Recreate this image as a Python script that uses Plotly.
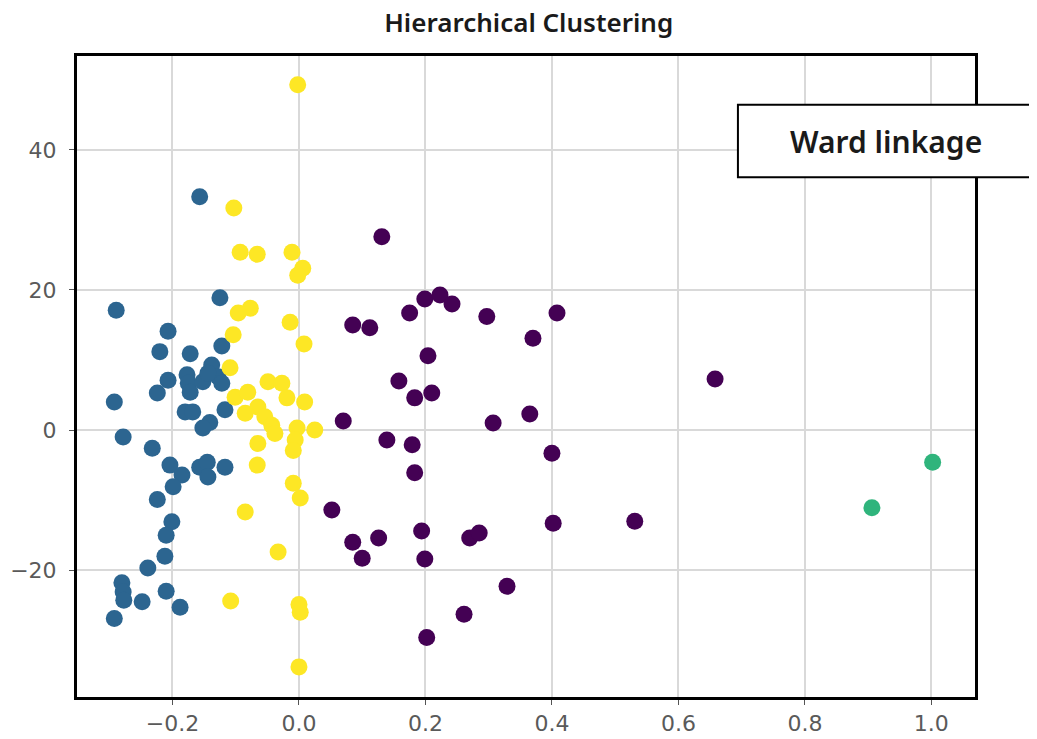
import plotly.graph_objects as go

# Cluster 0 (purple)
purple_x = [0.131, 0.199, 0.223, 0.242, 0.175, 0.297, 0.408, 0.085, 0.112, 0.370,
            0.204, 0.158, 0.183, 0.210, 0.365, 0.070, 0.307, 0.139, 0.179, 0.400,
            0.183, 0.052, 0.194, 0.085, 0.126, 0.100, 0.270, 0.285, 0.402, 0.199,
            0.329, 0.261, 0.202, 0.658, 0.531]
purple_y = [27.6, 18.7, 19.3, 18.0, 16.7, 16.2, 16.7, 15.0, 14.6, 13.1,
            10.6, 7.0, 4.6, 5.3, 2.3, 1.3, 1.0, -1.4, -2.1, -3.3,
            -6.1, -11.4, -14.4, -16.0, -15.4, -18.3, -15.4, -14.7, -13.3, -18.4,
            -22.3, -26.3, -29.6, 7.3, -13.0]

# Cluster 1 (blue)
blue_x = [-0.157, -0.125, -0.289, -0.207, -0.122, -0.220, -0.172, -0.138, -0.128, -0.177,
          -0.207, -0.175, -0.172, -0.152, -0.144, -0.122, -0.224, -0.292, -0.180, -0.168,
          -0.117, -0.141, -0.152, -0.278, -0.232, -0.204, -0.185, -0.199, -0.157, -0.145,
          -0.144, -0.117, -0.224, -0.201, -0.210, -0.212, -0.239, -0.280, -0.278, -0.277,
          -0.248, -0.210, -0.188, -0.292]
blue_y = [33.3, 18.9, 17.1, 14.1, 12.0, 11.2, 10.9, 9.3, 7.6, 7.9,
          7.1, 6.7, 5.4, 6.9, 8.1, 6.7, 5.3, 4.0, 2.6, 2.6,
          2.9, 1.1, 0.3, -1.0, -2.6, -5.0, -6.4, -8.1, -5.3, -4.6,
          -6.7, -5.3, -9.9, -13.1, -15.0, -18.0, -19.7, -21.8, -23.1, -24.3,
          -24.5, -23.0, -25.3, -26.9]

# Cluster 2 (green)
green_x = [0.906, 1.002]
green_y = [-11.1, -4.6]

# Cluster 3 (yellow)
yellow_x = [-0.002, -0.103, -0.093, -0.066, -0.011, 0.006, -0.002, -0.077, -0.096, -0.014,
            -0.104, 0.008, -0.109, -0.049, -0.027, -0.019, 0.009, -0.101, -0.081, -0.065,
            -0.085, -0.054, -0.043, -0.038, -0.003, 0.025, -0.006, -0.009, -0.065, -0.066,
            -0.009, 0.002, -0.085, -0.033, -0.108, 0.000, 0.002, 0.000]
yellow_y = [49.3, 31.7, 25.4, 25.1, 25.4, 23.1, 22.1, 17.4, 16.7, 15.4,
            13.6, 12.3, 8.9, 6.9, 6.7, 4.6, 4.0, 4.7, 5.4, 3.3,
            2.4, 1.9, 0.7, -0.5, 0.3, 0.0, -1.4, -2.9, -1.9, -5.0,
            -7.6, -9.7, -11.7, -17.4, -24.4, -24.9, -26.0, -33.8]

x_ticks = [-0.2, 0.0, 0.2, 0.4, 0.6, 0.8, 1.0]
x_ticklabels = ["\u22120.2", "0.0", "0.2", "0.4", "0.6", "0.8", "1.0"]
y_ticks = [-20, 0, 20, 40]
y_ticklabels = ["\u221220", "0", "20", "40"]

clusters = [
    (purple_x, purple_y, "#440154"),
    (blue_x, blue_y, "#2c6590"),
    (green_x, green_y, "#2fb47c"),
    (yellow_x, yellow_y, "#fde725"),
]

fig = go.Figure()
for xs, ys, col in clusters:
    fig.add_trace(go.Scatter(
        x=xs, y=ys, mode="markers",
        marker=dict(size=17, color=col, line=dict(width=0)),
        showlegend=False,
    ))

fig.update_layout(
    width=1029, height=731,
    margin=dict(l=69, r=62, t=48, b=42),
    paper_bgcolor="white", plot_bgcolor="white",
    title=dict(text="Hierarchical Clustering", x=0.506, xanchor="center",
               y=1.0, yanchor="top", pad=dict(t=6),
               font=dict(family="Noto Sans", size=26, color="#1a1a1a", weight=600)),
    font=dict(family="DejaVu Sans", size=22, color="#5a5a5a"),
)
fig.update_xaxes(
    range=[-0.351, 1.069], tickvals=x_ticks, ticktext=x_ticklabels,
    showgrid=True, gridcolor="#d9d9d9", gridwidth=2, zeroline=False,
    showline=True, linecolor="black", linewidth=3, mirror=True,
    ticks="outside", ticklen=5, tickcolor="#555555", automargin=False,
)
fig.update_yaxes(
    range=[-38.1, 53.4], tickvals=y_ticks, ticktext=y_ticklabels,
    showgrid=True, gridcolor="#d9d9d9", gridwidth=2, zeroline=False,
    showline=True, linecolor="black", linewidth=3, mirror=True,
    ticks="outside", ticklen=5, tickcolor="#555555", automargin=False,
    ticklabelstandoff=8,
)

fig.add_shape(type="rect", xref="paper", yref="paper",
              x0=0.736, x1=1.067, y0=0.811, y1=0.924,
              fillcolor="white", line=dict(color="black", width=2), layer="above")
fig.add_annotation(text="Ward linkage", xref="paper", yref="paper",
                   x=0.901, y=0.867, xanchor="center", yanchor="middle",
                   showarrow=False,
                   font=dict(family="Noto Sans", size=30, color="#1a1a1a", weight=600))

fig.write_html("out.html")
